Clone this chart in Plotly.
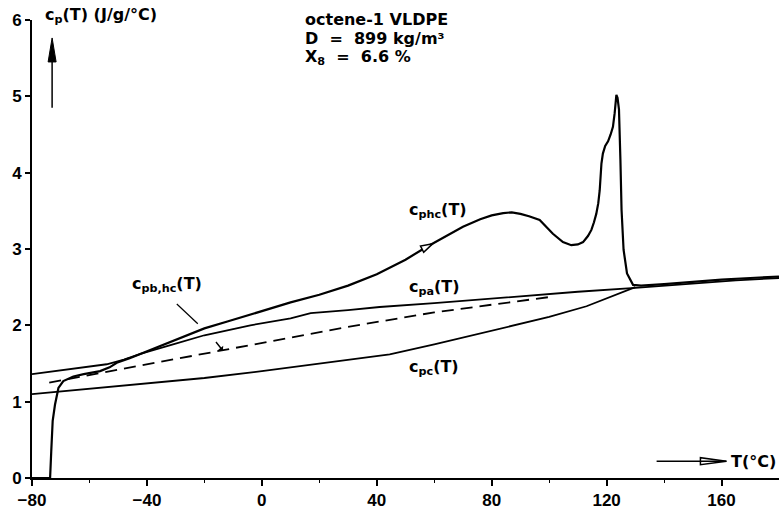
import plotly.graph_objects as go

# Measured heat capacity on heating, c_p,hc(T)
T_hc = [-80, -73.7, -73.3, -72.8, -72.0, -70.8, -69.1, -68.0, -65.6, -62, -58, -56.3, -53,
        -50.5, -46, -42, -36, -30, -25, -20, -12, -4, 4, 10, 20, 30, 40, 50, 57, 64,
        70, 76, 80, 84, 87, 90, 93, 96.7, 99, 101.3, 104.8, 107.7, 110, 111.8, 113.5,
        114.7, 115.6, 116.4, 117.1, 117.6, 118.2, 118.7, 119.5, 120.5, 121.4, 122.2,
        122.8, 123.1, 123.4, 123.8, 124.3, 124.8, 125.2, 125.9, 127.1, 129.2, 132,
        140, 150, 160, 170, 180]
cp_hc = [0, 0, 0.35, 0.75, 0.96, 1.18, 1.27, 1.29, 1.33, 1.36, 1.39, 1.40, 1.45,
         1.51, 1.57, 1.63, 1.72, 1.80, 1.88, 1.96, 2.05, 2.14, 2.23, 2.30, 2.40, 2.52,
         2.67, 2.86, 3.02, 3.17, 3.29, 3.39, 3.44, 3.47, 3.48, 3.46, 3.43, 3.38, 3.29,
         3.20, 3.09, 3.05, 3.06, 3.09, 3.17, 3.25, 3.35, 3.46, 3.60, 3.77, 4.12, 4.25,
         4.35, 4.41, 4.50, 4.60, 4.78, 4.91, 5.02, 4.98, 4.83, 4.17, 3.51, 2.99, 2.68,
         2.53, 2.52, 2.54, 2.57, 2.60, 2.62, 2.64]

# Amorphous heat capacity, c_pa(T)
T_a = [-80, -70, -60, -54, -48, -42, -30, -20, -10, -4, 10, 17, 30, 41, 60, 80, 93,
       110, 130, 150, 165, 180]
cp_a = [1.36, 1.41, 1.46, 1.49, 1.55, 1.63, 1.76, 1.87, 1.95, 2.00, 2.09, 2.16, 2.20,
        2.24, 2.29, 2.35, 2.38, 2.44, 2.49, 2.55, 2.59, 2.62]

# Crystalline heat capacity, c_pc(T)
T_c = [-80, -60, -40, -20, 0, 10, 20, 44.5, 60, 80, 93, 100, 113, 120, 130]
cp_c = [1.10, 1.17, 1.24, 1.31, 1.40, 1.45, 1.50, 1.62, 1.75, 1.93, 2.04, 2.11, 2.25,
        2.35, 2.50]

# Baseline (dashed)
T_base = [-74, -40, -4, 30, 60, 93, 100]
cp_base = [1.25, 1.49, 1.75, 1.98, 2.17, 2.33, 2.37]

x_ticks = [-80, -40, 0, 40, 80, 120, 160]
x_minor = [-60, -20, 20, 60, 100, 140, 180]
y_ticks = [0, 1, 2, 3, 4, 5, 6]


def bold_label(v):
    s = str(v).replace("-", "\u2212")
    return "<b>" + s + "</b>"


tick_font = dict(family="Liberation Sans", size=17, color="black")
txt_font = dict(family="DejaVu Sans", size=16, color="black", weight="bold")

fig = go.Figure()
fig.add_trace(go.Scatter(x=T_c, y=cp_c, mode="lines",
                         line=dict(color="black", width=1.8), hoverinfo="skip"))
fig.add_trace(go.Scatter(x=T_base, y=cp_base, mode="lines",
                         line=dict(color="black", width=1.8, dash="12px,7px"),
                         hoverinfo="skip"))
fig.add_trace(go.Scatter(x=T_a, y=cp_a, mode="lines",
                         line=dict(color="black", width=1.8), hoverinfo="skip"))
fig.add_trace(go.Scatter(x=T_hc, y=cp_hc, mode="lines",
                         line=dict(color="black", width=2.2), hoverinfo="skip"))

shapes = []
# vertical axis arrow
shapes.append(dict(type="line", x0=-73, x1=-73, y0=4.85, y1=5.55,
                   line=dict(color="black", width=1.5)))
shapes.append(dict(type="path", xsizemode="pixel", ysizemode="pixel",
                   xanchor=-73, yanchor=5.765, path="M 0 0 L -4 -24 L 4 -24 Z",
                   fillcolor="black", line=dict(color="black", width=1)))
# horizontal axis arrow
shapes.append(dict(type="path", xsizemode="pixel", ysizemode="pixel",
                   xanchor=161.7, yanchor=0.22, path="M 0 0 L -26 3.5 L -26 -3.5 Z",
                   fillcolor="white", line=dict(color="black", width=1.5)))
shapes.append(dict(type="line", x0=137.4, x1=161.7, y0=0.22, y1=0.22,
                   line=dict(color="black", width=1.5)))
# direction arrow on the heating curve
shapes.append(dict(type="path", xsizemode="pixel", ysizemode="pixel",
                   xanchor=59.5, yanchor=3.07, path="M 0 0 L -12.3 -2.3 L -9.1 -8.6 Z",
                   fillcolor="white", line=dict(color="black", width=1.5)))
# leader line for the c_pb,hc label
shapes.append(dict(type="line", x0=-29.6, y0=2.28, x1=-22.3, y1=2.02,
                   line=dict(color="black", width=1.2)))

# labels inside the plotting area (data coordinates)
annotations = [
    dict(x=14.3, y=5.752, text="D  =  899 kg/m³"),
    dict(x=14.3, y=5.511, text="X<sub>8</sub>  =  6.6 %"),
    dict(x=50.4, y=3.51, text="c<sub>phc</sub>(T)"),
    dict(x=50.4, y=2.50, text="c<sub>pa</sub>(T)"),
    dict(x=50.4, y=1.45, text="c<sub>pc</sub>(T)"),
    dict(x=-45.9, y=2.54, text="c<sub>pb,hc</sub>(T)"),
    dict(x=162.5, y=0.22, text="T(°C)"),
]
for a in annotations:
    a.update(xref="x", yref="y", xanchor="left", yanchor="middle",
             showarrow=False, font=txt_font)

# labels above the top of the y axis (paper coordinates)
annotations.append(dict(x=-76.2, y=1.009, xref="x", yref="paper",
                        text="c<sub>p</sub>(T) (J/g/°C)", xanchor="left",
                        yanchor="middle", showarrow=False, font=txt_font))
annotations.append(dict(x=14.3, y=1.001, xref="x", yref="paper",
                        text="octene-1 VLDPE", xanchor="left",
                        yanchor="middle", showarrow=False, font=txt_font))

annotations.append(dict(x=-13.6, y=1.67, xref="x", yref="y", text="", showarrow=True,
                        ax=-8, ay=-10, arrowhead=1, arrowsize=0.8, arrowwidth=1.4,
                        arrowcolor="black"))

fig.update_layout(
    width=779, height=510,
    margin=dict(l=32, r=0, t=20, b=30),
    paper_bgcolor="white", plot_bgcolor="white",
    showlegend=False,
    shapes=shapes, annotations=annotations,
    xaxis=dict(range=[-80, 180], tickvals=x_ticks,
               ticktext=[bold_label(v) for v in x_ticks],
               showgrid=False, zeroline=False,
               showline=True, linecolor="black", linewidth=2, ticks="outside",
               ticklen=6, tickwidth=1.5, tickcolor="black", tickfont=tick_font,
               minor=dict(tickvals=x_minor, ticks="outside", ticklen=3, tickwidth=1.2,
                          tickcolor="black", showgrid=False)),
    yaxis=dict(range=[0, 6], tickvals=y_ticks,
               ticktext=[bold_label(v) for v in y_ticks],
               showgrid=False, zeroline=False,
               showline=True, linecolor="black", linewidth=2, ticks="outside",
               ticklen=5, tickwidth=1.5, tickcolor="black", tickfont=tick_font),
)

fig.write_html("out.html")
